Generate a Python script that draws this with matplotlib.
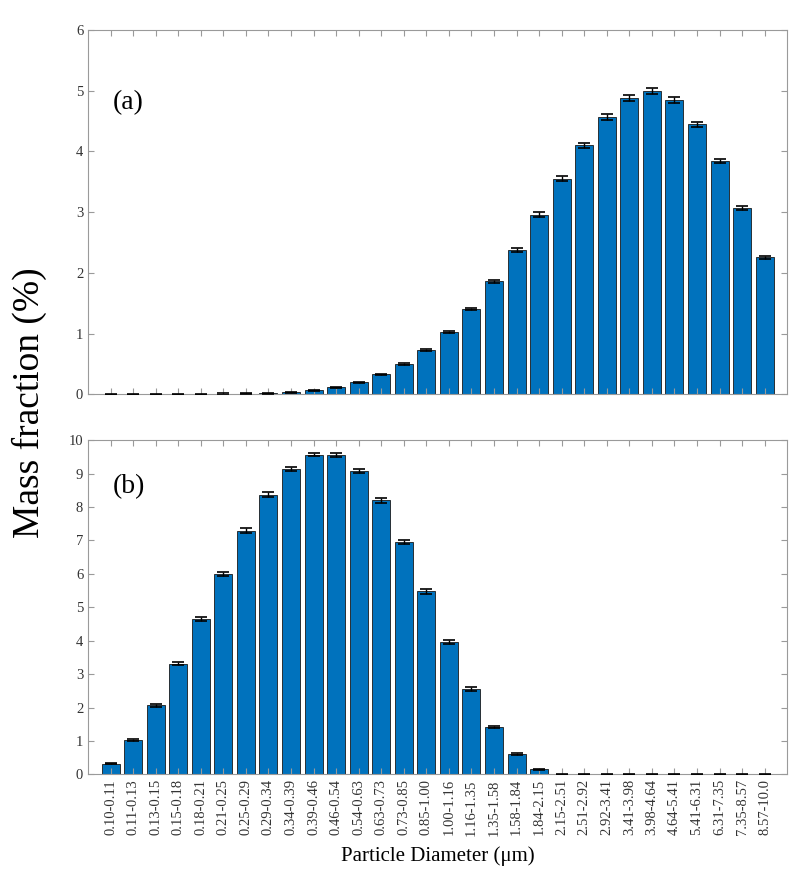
import numpy as np
import matplotlib
matplotlib.use("Agg")
import matplotlib.pyplot as plt

plt.rcParams['font.family'] = ['Liberation Serif', 'DejaVu Serif']

bins = ["0.10-0.11", "0.11-0.13", "0.13-0.15", "0.15-0.18", "0.18-0.21",
        "0.21-0.25", "0.25-0.29", "0.29-0.34", "0.34-0.39", "0.39-0.46",
        "0.46-0.54", "0.54-0.63", "0.63-0.73", "0.73-0.85", "0.85-1.00",
        "1.00-1.16", "1.16-1.35", "1.35-1.58", "1.58-1.84", "1.84-2.15",
        "2.15-2.51", "2.51-2.92", "2.92-3.41", "3.41-3.98", "3.98-4.64",
        "4.64-5.41", "5.41-6.31", "6.31-7.35", "7.35-8.57", "8.57-10.0"]

# panel (a) mass fraction, %
mass_a = [0.0, 0.0, 0.0, 0.0, 0.0, 0.005, 0.01, 0.015, 0.03, 0.065,
          0.115, 0.2, 0.33, 0.5, 0.73, 1.02, 1.4, 1.86, 2.38, 2.96,
          3.55, 4.1, 4.57, 4.88, 4.99, 4.85, 4.45, 3.84, 3.07, 2.26]
err_a = [0.01, 0.01, 0.01, 0.01, 0.01, 0.01, 0.01, 0.01, 0.01, 0.01,
         0.01, 0.01, 0.01, 0.01, 0.015, 0.015, 0.02, 0.025, 0.03, 0.035,
         0.04, 0.045, 0.05, 0.05, 0.05, 0.045, 0.04, 0.035, 0.03, 0.025]

# panel (b) mass fraction, %
mass_b = [0.32, 1.03, 2.07, 3.31, 4.66, 6.01, 7.29, 8.37, 9.14, 9.57,
          9.56, 9.09, 8.2, 6.95, 5.48, 3.96, 2.56, 1.42, 0.62, 0.15,
          0.0, 0.0, 0.0, 0.0, 0.0, 0.0, 0.0, 0.0, 0.0, 0.0]
err_b = [0.02, 0.03, 0.04, 0.05, 0.06, 0.06, 0.07, 0.07, 0.06, 0.05,
         0.05, 0.06, 0.07, 0.07, 0.07, 0.06, 0.05, 0.04, 0.03, 0.02,
         0.01, 0.01, 0.01, 0.01, 0.01, 0.01, 0.01, 0.01, 0.01, 0.01]

x = np.arange(1, len(bins) + 1)
bar_col = "#0072BD"
spine_col = "#9a9a9a"

fig = plt.figure(figsize=(8, 8.84), dpi=100)
ax1 = fig.add_axes([0.11, 0.554, 0.874, 0.412])
ax2 = fig.add_axes([0.11, 0.124, 0.874, 0.378])

for ax, y, e, ymax, tag, ty in [(ax1, mass_a, err_a, 6, "(a)", 0.80),
                                (ax2, mass_b, err_b, 10, "(b)", 0.86)]:
    ax.bar(x, y, width=0.8, color=bar_col, edgecolor="#1a1a1a", linewidth=0.6)
    ax.errorbar(x, y, yerr=e, fmt="none", ecolor="black", elinewidth=1.0,
                capsize=4, capthick=1.2, zorder=3)
    ax.set_xlim(0, len(bins) + 1)
    ax.set_ylim(0, ymax)
    ax.set_yticks(range(0, ymax + 1))
    ax.set_xticks(x)
    ax.tick_params(direction="in", top=True, right=True, length=4,
                   color=spine_col, labelsize=10.5, labelcolor="#333333")
    for s in ax.spines.values():
        s.set_color(spine_col)
    ax.text(0.035, ty, tag, transform=ax.transAxes, fontsize=20,
            va="center", ha="left", color="black")

ax1.set_xticklabels([])
ax2.set_xticklabels(bins, rotation=90, fontsize=10.5, color="#333333")
ax2.set_xlabel("Particle Diameter (\u03bcm)", fontsize=15, labelpad=8)

fig.text(0.037, 0.545, "Mass fraction (%)", rotation=90, fontsize=27,
         va="center", ha="center")

fig.savefig("out.png", dpi=100)
